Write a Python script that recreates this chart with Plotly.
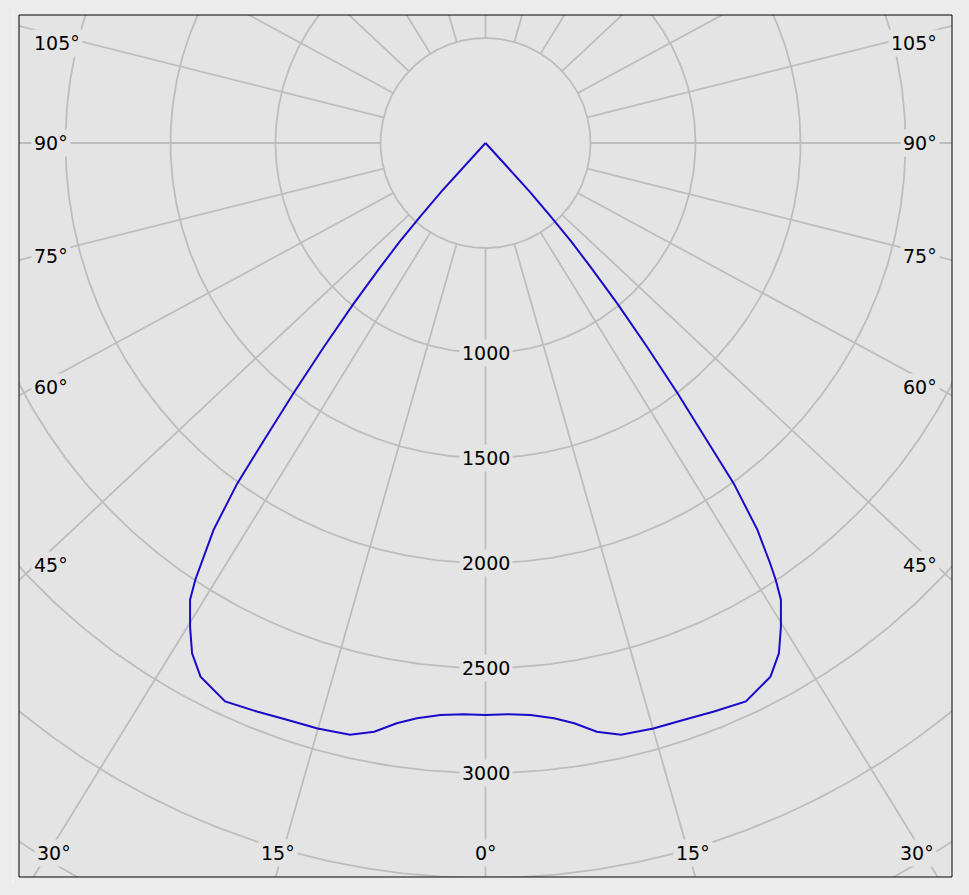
import numpy as np
import plotly.graph_objects as go

# ---- data ----
# gamma angle measured from nadir (deg), one half of the symmetric curve
THETA = [0, 2.2, 4.5, 6.8, 8.7, 10.7, 12.9, 16.0, 19.0, 21.9, 25.0, 28.1, 29.9,
         31.4, 32.9, 33.6, 34.1, 35.1, 36.1, 36.7, 37.5, 38.4, 39.4, 40.3, 41.0,
         41.6, 42.2, 42.4, 45.0]
# luminous intensity (cd)
INTENSITY = [2724, 2722, 2732, 2759, 2795, 2853, 2891, 2900, 2905, 2918, 2934,
             2881, 2803, 2700, 2590, 2497, 2418, 2252, 2006, 1765, 1501, 1238,
             988, 773, 623, 470, 313, 153, 0]

RING_VALUES = [500, 1000, 1500, 2000, 2500, 3000, 3500, 4000, 4500]
RING_LABELS = [1000, 1500, 2000, 2500, 3000]
SPOKE_ANGLES = list(range(0, 181, 15))
SIDE_LABEL_ANGLES = [45, 60, 75, 90, 105]
BOTTOM_LABEL_ANGLES = [0, 15, 30]

# ---- styling / layout ----
W, H = 969, 895
PL, PR, PT, PB = 19, 952, 15, 877      # plot area in pixels
CX, CY = 485.5, 143                      # pole in pixels
S = 0.21                                 # px per cd
K = 1.067                                # horizontal spread of the angle spokes
PLOT_BG = "#e4e4e4"
PAPER_BG = "#ececec"
GRID = "#bdbdbd"
CURVE = "#1a0ac8"
FONT = dict(family="DejaVu Sans, Verdana, sans-serif", size=19, color="#000000")

xr = [(PL - CX) / S, (PR - CX) / S]
yr = [-(PB - CY) / S, (CY - PT) / S]

fig = go.Figure()

# rings
phi = np.linspace(0, 2 * np.pi, 721)
rx, ry = [], []
for r in RING_VALUES:
    rx += list(r * np.cos(phi)) + [None]
    ry += list(r * np.sin(phi)) + [None]
fig.add_trace(go.Scatter(x=rx, y=ry, mode="lines", line=dict(color=GRID, width=1.8),
                         hoverinfo="skip", showlegend=False))

# spokes
def direction(theta_deg, side):
    t = np.radians(theta_deg)
    ux, uy = side * K * np.sin(t), -np.cos(t)
    n = np.hypot(ux, uy)
    return ux / n, uy / n

sx, sy = [], []
for a in SPOKE_ANGLES:
    sides = [1] if a in (0, 180) else [-1, 1]
    for sd in sides:
        ux, uy = direction(a, sd)
        sx += [RING_VALUES[0] * ux, 9000 * ux, None]
        sy += [RING_VALUES[0] * uy, 9000 * uy, None]
fig.add_trace(go.Scatter(x=sx, y=sy, mode="lines", line=dict(color=GRID, width=1.8),
                         hoverinfo="skip", showlegend=False))

# intensity curve (symmetric)
th_full = [-t for t in THETA[::-1]] + THETA[1:]
i_full = INTENSITY[::-1] + INTENSITY[1:]
th_r = np.radians(th_full)
cx = np.array(i_full) * np.sin(th_r)
cy = -np.array(i_full) * np.cos(th_r)
fig.add_trace(go.Scatter(x=cx, y=cy, mode="lines",
                         line=dict(color=CURVE, width=2),
                         hoverinfo="skip", showlegend=False))

annotations = []
for v in RING_LABELS:
    annotations.append(dict(x=0, y=-v, text=str(v), showarrow=False, font=FONT,
                            bgcolor=PLOT_BG, borderpad=2, xanchor="center", yanchor="middle"))

x_probe = (35 - CX) / S
y_top = (CY - 43) / S
for a in SIDE_LABEL_ANGLES:
    for sd in (-1, 1):
        ux, uy = direction(a, sd)
        t = (sd * abs(x_probe)) / ux
        y = min(t * uy, y_top)
        if sd < 0:
            annotations.append(dict(x=(31 - CX) / S, y=y, text=f"{a}°", showarrow=False,
                                    font=FONT, bgcolor=PLOT_BG, borderpad=2,
                                    xanchor="left", yanchor="middle"))
        else:
            annotations.append(dict(x=(940 - CX) / S, y=y, text=f"{a}°", showarrow=False,
                                    font=FONT, bgcolor=PLOT_BG, borderpad=2,
                                    xanchor="right", yanchor="middle"))

y_lab = -(853 - CY) / S
y_probe = -(870 - CY) / S
x_lim = (917 - CX) / S
for a in BOTTOM_LABEL_ANGLES:
    sides = [1] if a == 0 else [-1, 1]
    for sd in sides:
        ux, uy = direction(a, sd)
        t = y_probe / uy
        x = max(-x_lim, min(x_lim, t * ux))
        annotations.append(dict(x=x, y=y_lab, text=f"{a}°", showarrow=False, font=FONT,
                                bgcolor=PLOT_BG, borderpad=2,
                                xanchor="center", yanchor="middle"))

fig.update_layout(
    width=W, height=H, autosize=False,
    margin=dict(l=PL, r=W - PR, t=PT, b=H - PB, pad=0),
    paper_bgcolor=PAPER_BG, plot_bgcolor=PLOT_BG,
    xaxis=dict(range=xr, visible=False, showgrid=False, zeroline=False, fixedrange=True),
    yaxis=dict(range=yr, visible=False, showgrid=False, zeroline=False, fixedrange=True),
    annotations=annotations,
    shapes=[
        dict(type="rect", xref="paper", yref="paper", x0=0, x1=1, y0=0, y1=1,
             line=dict(color="#000000", width=1), layer="above"),
        dict(type="line", xref="paper", yref="paper",
             x0=(13 - PL) / (PR - PL), x1=(13 - PL) / (PR - PL),
             y0=(PB - 885) / (PB - PT), y1=(PB - 10) / (PB - PT),
             line=dict(color="#f6f6f6", width=1)),
    ],
    showlegend=False,
)

fig.write_html(
    "out.html",
    config={"displayModeBar": False},
    post_script="document.body.style.margin='0';document.body.style.background='%s';" % PAPER_BG,
)
